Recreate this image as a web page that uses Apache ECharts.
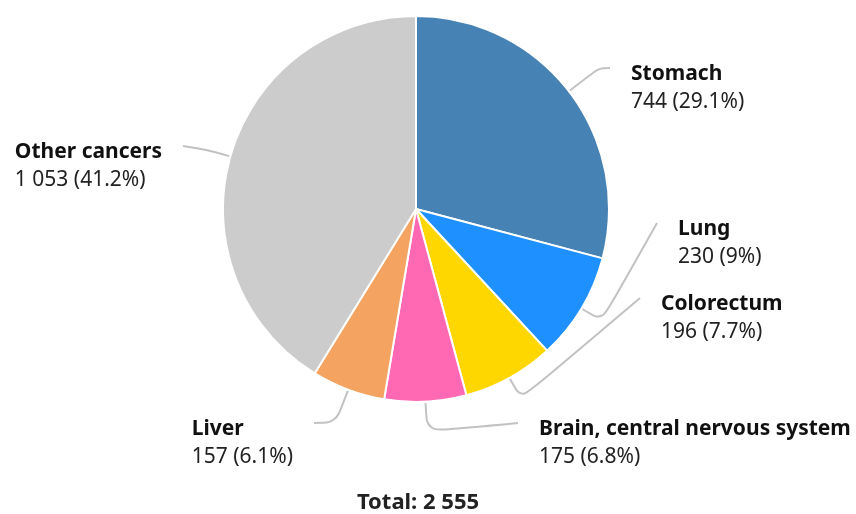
<!DOCTYPE html>
<html><head><meta charset="utf-8">
<script src="https://cdn.jsdelivr.net/npm/echarts@6/dist/echarts.min.js"></script>
<style>html,body{margin:0;padding:0;background:#fff}#c{width:856px;height:514px}</style>
</head><body><div id="c"></div>
<script>
// ---- data ----
const categories = ['Stomach', 'Lung', 'Colorectum', 'Brain, central nervous system', 'Liver', 'Other cancers'];
const values = [744, 230, 196, 175, 157, 1053];
const colors = ['#4682B4', '#1E90FF', '#FFD700', '#FF69B4', '#F4A460', '#CCCCCC'];
const totalLabel = 'Total';

// ---- layout / style ----
const CX = 416, CY = 209, R = 193;
const labelAnchors = [[610, 68], [657, 223], [640, 298], [518, 423], [314, 423], [183, 146]];
const bendLengths = [38, 24, 24, 30, 35, 25];
const LABEL_GAP = 21;
const FONT = '"Noto Sans", "Open Sans", sans-serif';

const total = values.reduce((a, b) => a + b, 0);
function fmt(n) { return String(n).replace(/\B(?=(\d{3})+(?!\d))/g, ' '); }
function pct(v) { let s = (v / total * 100).toFixed(1); if (s.endsWith('.0')) s = s.slice(0, -2); return s; }
const starts = []; let acc = 0; values.forEach(v => { starts.push(acc); acc += v; });
function midAngle(i) { return (starts[i] + values[i] / 2) / total * 2 * Math.PI; }

const chart = echarts.init(document.getElementById('c'), null, { renderer: 'canvas' });
chart.setOption({
  animation: false,
  backgroundColor: '#fff',
  series: [{
    type: 'pie',
    center: [CX, CY],
    radius: R,
    startAngle: 90,
    clockwise: true,
    avoidLabelOverlap: false,
    emphasis: { scale: false },
    itemStyle: { borderColor: '#fff', borderWidth: 2 },
    label: {
      show: true,
      position: 'outside',
      formatter: p => '{n|' + p.name + '}\n{v|' + fmt(p.value) + ' (' + pct(p.value) + '%)}',
      rich: {
        n: { fontFamily: FONT, fontWeight: 'bold', fontSize: 21, lineHeight: 28, color: '#111', align: 'left' },
        v: { fontFamily: FONT, fontSize: 21, lineHeight: 28, color: '#222', align: 'left' }
      }
    },
    labelLine: { show: true, length: 20, length2: 10, smooth: 0.3, lineStyle: { color: '#c2c2c2', width: 2 } },
    labelLayout: function (params) {
      const i = params.dataIndex;
      const a = midAngle(i);
      const dx = Math.sin(a), dy = -Math.cos(a);
      const p0 = [CX + (R + 1) * dx, CY + (R + 1) * dy];
      const p1 = [CX + (R + bendLengths[i]) * dx, CY + (R + bendLengths[i]) * dy];
      const an = labelAnchors[i];
      const right = an[0] > CX;
      const w = params.labelRect.width;
      return {
        x: right ? an[0] + LABEL_GAP : an[0] - LABEL_GAP - w,
        y: an[1] - 7.5,
        align: 'left',
        verticalAlign: 'top',
        labelLinePoints: [p0, p1, an.slice()]
      };
    },
    data: categories.map((c, i) => ({ name: c, value: values[i], itemStyle: { color: colors[i] } }))
  }],
  graphic: [{
    type: 'text', x: CX + 2, y: 503,
    style: { text: totalLabel + ': ' + fmt(total), font: 'bold 22px ' + FONT, textAlign: 'center', textVerticalAlign: 'middle', fill: '#222' }
  }]
});
</script></body></html>
